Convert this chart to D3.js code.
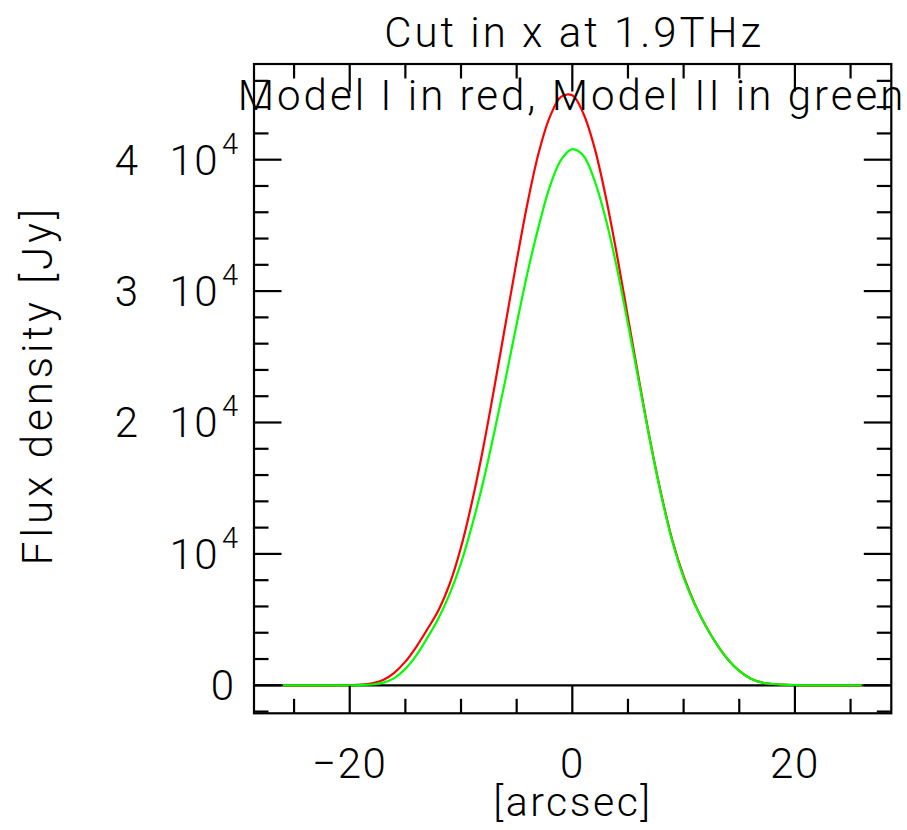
<!DOCTYPE html>
<html>
<head>
<meta charset="utf-8">
<script src="https://cdn.jsdelivr.net/npm/d3@7"></script>
<style>
  html, body { margin: 0; padding: 0; background: #fff; }
  svg { display: block; }
  text { font-family: "Roboto", "Liberation Sans", sans-serif; font-weight: 300; fill: #000; }
</style>
</head>
<body>
<svg id="chart" width="907" height="830"></svg>
<script>
// ---- data ----
const title = "Cut in x at 1.9THz";
const subtitle = "Model I in red, Model II in green";
const xLabel = "[arcsec]";
const yLabel = "Flux density [Jy]";

const offsets = [-26,-25,-24,-23,-22,-21,-20,-19,-18,-17,-16,-15,-14,-13,-12,-11,-10,-9,-8,-7,-6,-5,-4,-3,-2,-1,0,
  1,2,3,4,5,6,7,8,9,10,11,12,13,14,15,16,17,18,19,20,21,22,23,24,25,26];
const modelI = [0,0,0,0,0,0,15,50,150,400,950,1800,2950,4300,5750,7750,10500,14000,18100,22700,27500,32300,36800,40600,43300,44800,44900,
  43500,40900,37200,32800,28000,23200,18600,14500,11000,8300,6200,4500,3100,1950,1100,520,220,100,50,20,0,0,0,0,0,0];
const modelII = [0,0,0,0,0,0,0,20,60,200,550,1250,2300,3650,5150,7000,9300,12200,15500,19300,23300,27500,31500,35000,38000,40000,40800,
  40300,38400,35500,31800,27500,23000,18500,14400,10900,8200,6150,4500,3100,1950,1100,520,220,100,50,20,0,0,0,0,0,0];

const xMajorTicks = [-20, 0, 20];
const xMinorTicks = [-25, -15, -10, -5, 5, 10, 15, 25];
const xTickLabels = ["\u221220", "0", "20"];
const yMajorTicks = [0, 10000, 20000, 30000, 40000];
const yMinorTicks = [-2000, 2000, 4000, 6000, 8000, 12000, 14000, 16000, 18000, 22000, 24000, 26000, 28000,
  32000, 34000, 36000, 38000, 42000, 44000, 46000];
const yTickMantissa = ["0", "", "2", "3", "4"];
const yTickBase = ["", "10", "10", "10", "10"];
const yTickExponent = ["", "4", "4", "4", "4"];

const xDomain = [-28.6, 28.66];
const yDomain = [-2131, 47283];

// ---- layout ----
const svg = d3.select("#chart");
const L = 254, R = 891.3, T = 64, B = 713.3;
const x = d3.scaleLinear().domain(xDomain).range([L, R]);
const y = d3.scaleLinear().domain(yDomain).range([B, T]);

const axisColor = "#000";
const lw = 2.2;
const majorLen = 27.5, minorLen = 14.5;

// zero line
svg.append("line")
  .attr("x1", L).attr("x2", R).attr("y1", y(0)).attr("y2", y(0))
  .attr("stroke", axisColor).attr("stroke-width", lw);

// curves
const pts = (vals) => offsets.map((o, i) => [o, vals[i]]);
const line = d3.line().x(d => x(d[0])).y(d => y(d[1])).curve(d3.curveCatmullRom.alpha(0.5));
svg.append("path").attr("d", line(pts(modelI)))
  .attr("fill", "none").attr("stroke", "#ff0000").attr("stroke-width", 2.2);
svg.append("path").attr("d", line(pts(modelII)))
  .attr("fill", "none").attr("stroke", "#00ff00").attr("stroke-width", 2.2);

// ticks
const g = svg.append("g").attr("stroke", axisColor).attr("stroke-width", lw);
function xTicks(vals, len) {
  vals.forEach(v => {
    g.append("line").attr("x1", x(v)).attr("x2", x(v)).attr("y1", B).attr("y2", B - len);
    g.append("line").attr("x1", x(v)).attr("x2", x(v)).attr("y1", T).attr("y2", T + len);
  });
}
function yTicks(vals, len) {
  vals.forEach(v => {
    g.append("line").attr("x1", L).attr("x2", L + len).attr("y1", y(v)).attr("y2", y(v));
    g.append("line").attr("x1", R).attr("x2", R - len).attr("y1", y(v)).attr("y2", y(v));
  });
}
xTicks(xMajorTicks, majorLen);
xTicks(xMinorTicks, minorLen);
yTicks(yMajorTicks, majorLen);
yTicks(yMinorTicks, minorLen);

// frame
svg.append("rect").attr("x", L).attr("y", T).attr("width", R - L).attr("height", B - T)
  .attr("fill", "none").attr("stroke", axisColor).attr("stroke-width", lw);

// x tick labels
const fs = 42;
xMajorTicks.forEach((v, i) => {
  svg.append("text").attr("x", x(v)).attr("y", 778)
    .attr("text-anchor", "middle").attr("font-size", fs)
    .attr("letter-spacing", 1.5)
    .text(xTickLabels[i]);
});

// y tick labels
yMajorTicks.forEach((v, i) => {
  const yy = y(v) + 15;
  if (yTickBase[i] === "") {
    svg.append("text").attr("x", 234).attr("y", yy).attr("font-size", fs)
      .attr("text-anchor", "end").text(yTickMantissa[i]);
  } else {
    if (yTickMantissa[i] !== "") {
      svg.append("text").attr("x", 138).attr("y", yy).attr("font-size", fs)
        .attr("text-anchor", "end").text(yTickMantissa[i]);
    }
    svg.append("text").attr("x", 219).attr("y", yy).attr("font-size", fs)
      .attr("text-anchor", "end").attr("letter-spacing", 1.5).text(yTickBase[i]);
    svg.append("text").attr("x", 222).attr("y", yy - 21).attr("font-size", 29)
      .attr("text-anchor", "start").text(yTickExponent[i]);
  }
});

// titles
svg.append("text").attr("x", 574).attr("y", 47).attr("text-anchor", "middle")
  .attr("font-size", fs).attr("letter-spacing", 3.0).text(title);
svg.append("text").attr("x", 572).attr("y", 110).attr("text-anchor", "middle")
  .attr("font-size", fs).attr("letter-spacing", 3.0).text(subtitle);
svg.append("text").attr("x", 573).attr("y", 816).attr("text-anchor", "middle")
  .attr("font-size", 41).attr("letter-spacing", 2.5).text(xLabel);
svg.append("text").attr("transform", "translate(52,385) rotate(-90)").attr("text-anchor", "middle")
  .attr("font-size", fs).attr("letter-spacing", 4).text(yLabel);
</script>
</body>
</html>
